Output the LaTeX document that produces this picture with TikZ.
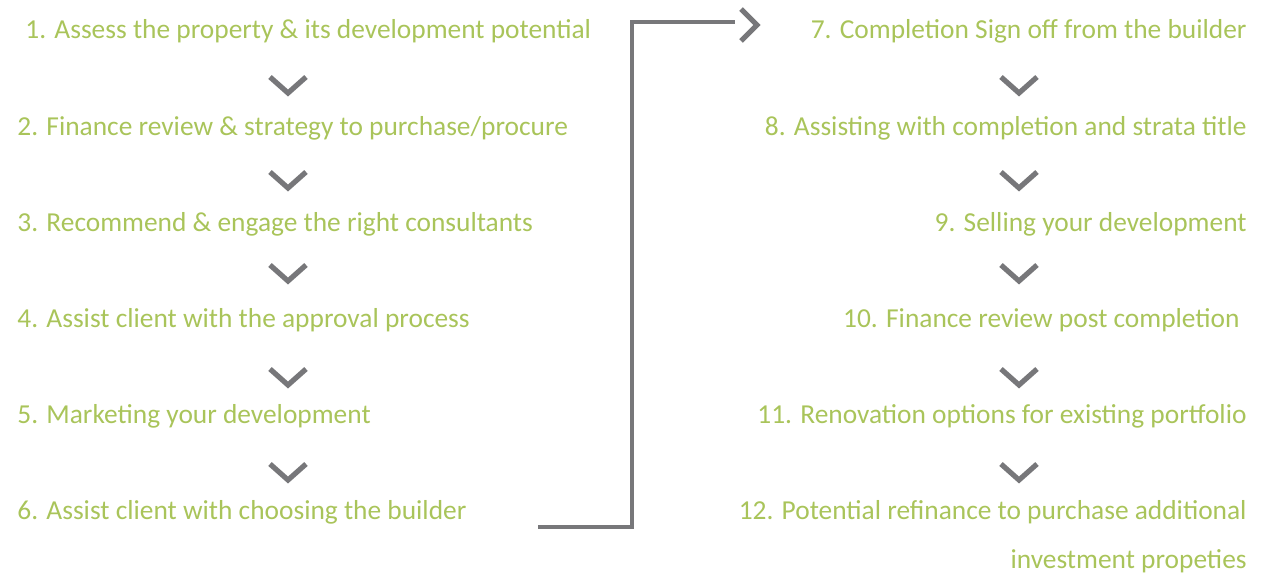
\documentclass[tikz,border=0pt]{standalone}
\usepackage{fontspec}
\setmainfont{Carlito}
\definecolor{txtg}{HTML}{A9C45A}
\definecolor{chev}{HTML}{77777A}
\begin{document}
\begin{tikzpicture}[x=0.5pt,y=-0.5pt,
  lbl/.style={text=txtg,font=\fontsize{13.7}{16}\selectfont,inner sep=0pt},
  L/.style={lbl,anchor=west},
  R/.style={lbl,anchor=east},
  chv/.style={draw=chev,line width=2.6pt,line cap=butt,line join=miter},
  conn/.style={draw=chev,line width=2pt}]
\useasboundingbox (0,0) rectangle (1280,577);
\node[L] (a1) at (25,31) {1. Assess the property \& its development potential};
\node[L] (a2) at (17,128) {2. Finance review \& strategy to purchase/procure};
\node[L] (a3) at (17,224) {3. Recommend \& engage the right consultants};
\node[L] (a4) at (17,320) {4. Assist client with the approval process};
\node[L] (a5) at (17,416) {5. Marketing your development};
\node[L] (a6) at (17,512) {6. Assist client with choosing the builder};
\node[R] (b7) at (1247,31) {7. Completion Sign off from the builder};
\node[R] (b8) at (1247,128) {8. Assisting with completion and strata title};
\node[R] (b9) at (1247,224) {9. Selling your development};
\node[R] (b10) at (1240,320) {10. Finance review post completion};
\node[R] (b11) at (1247,416) {11. Renovation options for existing portfolio};
\node[R] (b12) at (1247,512) {12. Potential refinance to purchase additional};
\node[R] (b12b) at (1247,561) {investment propeties};
\foreach \y in {85,180,273,377,472}{
  \draw[chv] (270,\y-8) -- (288,\y+8) -- (306,\y-8);
  \draw[chv] (1001,\y-8) -- (1019,\y+8) -- (1037,\y-8);
}
\coordinate (s) at (538,527);
\coordinate (c1) at (632,527);
\coordinate (c2) at (632,22);
\coordinate (e) at (735,22);
\draw[conn] (s) -- (c1) -- (c2) -- (e);
\draw[chv] (741,9) -- (757,25) -- (741,41);
\end{tikzpicture}
\end{document}
